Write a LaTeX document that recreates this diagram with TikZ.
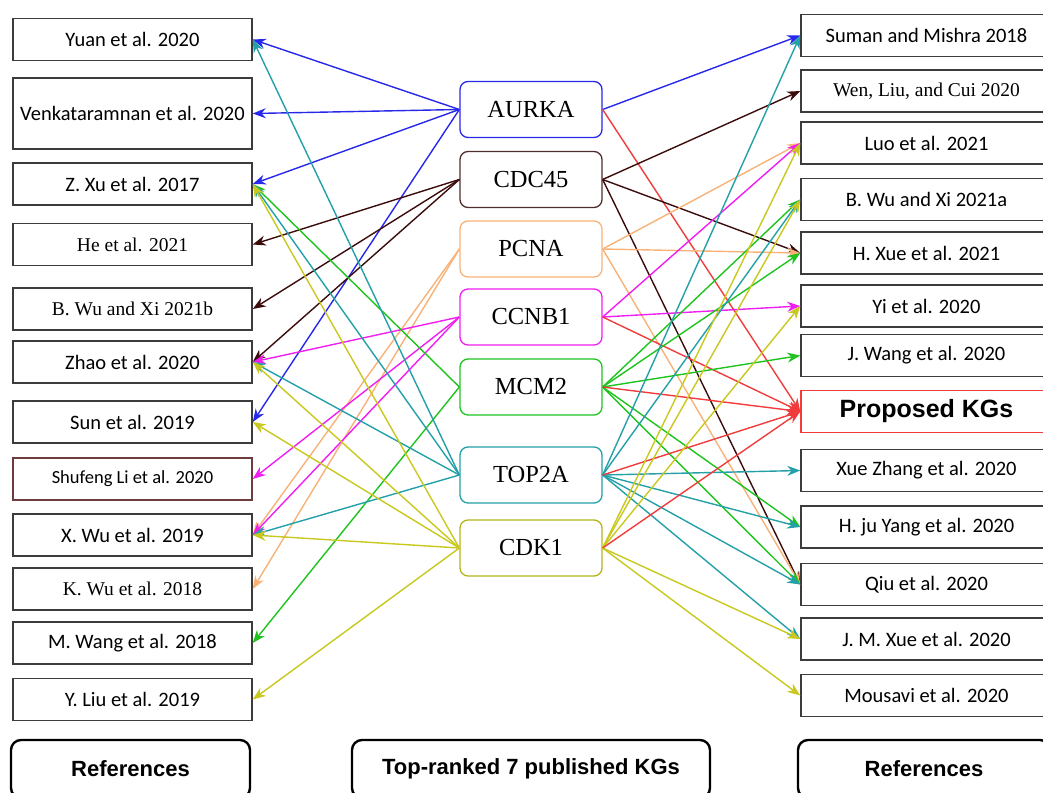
\documentclass[tikz,border=0pt]{standalone}
\usepackage{fontspec}
\usepackage{tikz}
\usetikzlibrary{arrows.meta}
\newfontfamily\calfont{Carlito}
\newfontfamily\timesfont{Liberation Serif}
\newfontfamily\arialfont{Liberation Sans}
\definecolor{aurkablue}{RGB}{40,40,235}
\definecolor{cdcbrown}{RGB}{60,12,12}
\definecolor{cdcbox}{RGB}{80,45,45}
\definecolor{pcnaorange}{RGB}{248,178,120}
\definecolor{ccnbpink}{RGB}{240,30,240}
\definecolor{mcmgreen}{RGB}{30,195,30}
\definecolor{topteal}{RGB}{35,160,168}
\definecolor{cdkyellow}{RGB}{200,200,30}
\definecolor{kgred}{RGB}{240,60,60}
\definecolor{boxgray}{RGB}{60,60,60}
\definecolor{lieborder}{RGB}{110,60,60}

\begin{document}
\begin{tikzpicture}[->, >={Stealth[length=13pt,width=10pt]}, line width=1.4pt, x=1pt, y=-1pt]
	\tikzstyle{ref}=[draw=boxgray, line width=1.5pt, minimum width=239pt, minimum height=42pt, inner sep=0pt, text=black, font={\calfont\fontsize{20.5}{24}\selectfont}]
	\tikzstyle{refserif}=[ref, font={\timesfont\fontsize{19.5}{23}\selectfont}]
	\tikzstyle{rref}=[ref, minimum width=251pt]
	\tikzstyle{gene}=[draw, rounded corners=8pt, line width=1.3pt, minimum width=142pt, minimum height=56pt, text=black, font={\timesfont\fontsize{24.5}{28}\selectfont}]
	\tikzstyle{caption}=[draw=black, line width=2.4pt, rounded corners=10pt, minimum height=58pt, font={\arialfont\bfseries\fontsize{22}{26}\selectfont}]
	\useasboundingbox (0,0) rectangle (1043,792);
	\clip (0,0) rectangle (1043,792);

	% references, left column
	\node[ref]      (yuan)    at (132.5,39.5)  {Yuan et al. 2020};
	\node[ref, minimum height=71pt] (venk) at (132.5,113.5) {Venkataramnan et al. 2020};
	\node[ref]      (zxu)     at (132.5,184)   {Z. Xu et al. 2017};
	\node[refserif] (he)      at (132.5,244.5) {He et al. 2021};
	\node[refserif] (bwub)    at (132.5,309)   {B. Wu and Xi 2021b};
	\node[ref]      (zhao)    at (132.5,362)   {Zhao et al. 2020};
	\node[ref]      (sun)     at (132.5,422)   {Sun et al. 2019};
	\node[ref, draw=lieborder, font={\calfont\fontsize{18.5}{22}\selectfont}] (shufeng) at (132.5,479) {Shufeng Li et al. 2020};
	\node[ref]      (xwu)     at (132.5,535)   {X. Wu et al. 2019};
	\node[refserif] (kwu)     at (132.5,589)   {K. Wu et al. 2018};
	\node[ref]      (mwang)   at (132.5,643)   {M. Wang et al. 2018};
	\node[ref]      (yliu)    at (132.5,699.5) {Y. Liu et al. 2019};

	% genes
	\node[gene, draw=aurkablue]  (aurka) at (531,109.5) {AURKA};
	\node[gene, draw=cdcbox]     (cdc)   at (531,179.5) {CDC45};
	\node[gene, draw=pcnaorange] (pcna)  at (531,249)   {PCNA};
	\node[gene, draw=ccnbpink]   (ccnb)  at (531,317)   {CCNB1};
	\node[gene, draw=mcmgreen]   (mcm)   at (531,387)   {MCM2};
	\node[gene, draw=topteal]    (top)   at (531,475)   {TOP2A};
	\node[gene, draw=cdkyellow!90!black] (cdk) at (531,548) {CDK1};

	% references, right column
	\node[rref]     (suman)    at (926.5,35.5)  {Suman and Mishra 2018};
	\node[rref, font={\timesfont\fontsize{19.5}{23}\selectfont}] (wen) at (926.5,91) {Wen, Liu, and Cui 2020};
	\node[rref]     (luo)      at (926.5,143)   {Luo et al. 2021};
	\node[rref]     (bwua)     at (926.5,199.5) {B. Wu and Xi 2021a};
	\node[rref]     (hxue)     at (926.5,253)   {H. Xue et al. 2021};
	\node[rref]     (yi)       at (926.5,306)   {Yi et al. 2020};
	\node[rref]     (jwang)    at (926.5,355.5) {J. Wang et al. 2020};
	\node[rref, draw=kgred, font={\arialfont\bfseries\fontsize{25}{29}\selectfont}] (proposed) at (926.5,411.5) {Proposed KGs};
	\node[rref]     (xzhang)   at (926.5,470.5) {Xue Zhang et al. 2020};
	\node[rref]     (hjuyang)  at (926.5,527)   {H. ju Yang et al. 2020};
	\node[rref]     (qiu)      at (926.5,584.5) {Qiu et al. 2020};
	\node[rref]     (jmxue)    at (926.5,639)   {J. M. Xue et al. 2020};
	\node[rref]     (mousavi)  at (926.5,695.5) {Mousavi et al. 2020};

	% bottom captions
	\node[caption, minimum width=239pt] (refleft)  at (130.5,769) {References};
	\node[caption, minimum width=358pt] (kgs)      at (531,769)   {Top-ranked 7 published KGs};
	\node[caption, minimum width=252pt] (refright) at (924,769)   {References};

	% links
	\path[aurkablue]
	(aurka.west) edge (yuan.east) edge (venk.east) edge (zxu.east) edge (sun.east)
	(aurka.east) edge (suman.west)
	             edge[kgred] (proposed.west);
	\path[cdcbrown]
	(cdc.west) edge (he.east) edge (bwub.east) edge (zhao.east)
	(cdc.east) edge (wen.west) edge (hxue.west) edge (qiu.west);
	\path[pcnaorange]
	(pcna.west) edge (xwu.east) edge (kwu.east)
	(pcna.east) edge (luo.west) edge (hxue.west) edge (qiu.west);
	\path[ccnbpink]
	(ccnb.west) edge (zhao.east) edge (shufeng.east) edge (xwu.east)
	(ccnb.east) edge (luo.west) edge (yi.west)
	            edge[kgred] (proposed.west);
	\path[mcmgreen]
	(mcm.west) edge (zxu.east) edge (mwang.east)
	(mcm.east) edge (bwua.west) edge (hxue.west) edge (jwang.west)
	           edge (hjuyang.west) edge (qiu.west)
	           edge[kgred] (proposed.west);
	\path[topteal]
	(top.west) edge (yuan.east) edge (zxu.east) edge (zhao.east) edge (xwu.east)
	(top.east) edge (suman.west) edge (bwua.west) edge (xzhang.west)
	           edge (hjuyang.west) edge (qiu.west) edge (jmxue.west)
	           edge[kgred] (proposed.west);
	\path[cdkyellow]
	(cdk.west) edge (zxu.east) edge (zhao.east) edge (sun.east) edge (xwu.east) edge (yliu.east)
	(cdk.east) edge (luo.west) edge (bwua.west) edge (yi.west)
	           edge (jmxue.west) edge (mousavi.west)
	           edge[kgred] (proposed.west);
\end{tikzpicture}
\end{document}
